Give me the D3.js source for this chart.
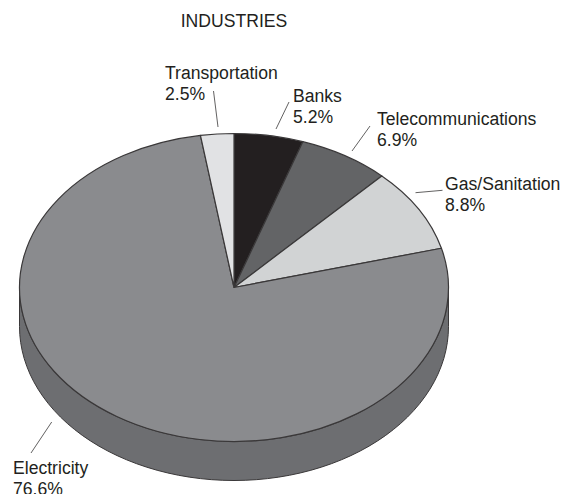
<!DOCTYPE html>
<html>
<head>
<meta charset="utf-8">
<title>Industries</title>
<script src="https://cdn.jsdelivr.net/npm/d3@7"></script>
<style>
  html, body { margin: 0; padding: 0; background: #fff; overflow: hidden; }
  svg { display: block; }
  text { font-family: "Liberation Sans", Arial, sans-serif; font-size: 17.6px; fill: #231f20; }
</style>
</head>
<body>
<svg id="chart" width="561" height="494"></svg>
<script>
// Slices in clockwise order from twelve o'clock
const categories = ["Banks", "Telecommunications", "Gas/Sanitation", "Electricity", "Transportation"];
const shares = [5.2, 6.9, 8.8, 76.6, 2.5];
const sliceColors = ["#231f20", "#636466", "#d1d3d4", "#8a8b8e", "#e1e2e4"];
const chartTitle = "INDUSTRIES";

// Tilted-disc geometry
const cx = 234, cy = 287.5, rx = 214.5, ry = 154, depth = 39;
const outline = "#3a3839";
const wallColor = "#6d6e71";

// Label anchors and leader lines, in category order
const labelSpots = [[293, 102], [377, 125], [445, 190], [13, 474], [165, 79]];
const leaders = [
  [[289, 102], [276, 129]],
  [[370, 126], [352, 151]],
  [[442.5, 190.3], [415.5, 192.7]],
  [[51.7, 422], [31, 453]],
  [[213.5, 91], [218, 127]]
];
const lineGap = 21.2;

const svg = d3.select("#chart");

svg.append("text")
  .attr("x", 234).attr("y", 27)
  .attr("text-anchor", "middle")
  .text(chartTitle);

// Cylinder wall: front half of the rim swept down by the disc depth
const wall = d3.path();
wall.moveTo(cx - rx, cy);
wall.lineTo(cx - rx, cy + depth);
const steps = d3.range(0, 181, 3).map(d => d * Math.PI / 180);
steps.forEach(t => wall.lineTo(cx - rx * Math.cos(t), cy + depth + ry * Math.sin(t)));
wall.lineTo(cx + rx, cy);
steps.slice().reverse().forEach(t => wall.lineTo(cx - rx * Math.cos(t), cy + ry * Math.sin(t)));
wall.closePath();

svg.append("path")
  .attr("d", wall.toString())
  .attr("fill", wallColor)
  .attr("stroke", outline)
  .attr("stroke-width", 1)
  .attr("stroke-linejoin", "round");

// Top face: a circular pie squashed vertically
const pie = d3.pie().sort(null).value(d => d);
const arc = d3.arc().innerRadius(0).outerRadius(rx);

svg.append("g")
  .attr("transform", `translate(${cx},${cy}) scale(1,${ry / rx})`)
  .selectAll("path")
  .data(pie(shares))
  .join("path")
  .attr("d", arc)
  .attr("fill", (d, i) => sliceColors[i])
  .attr("stroke", outline)
  .attr("stroke-width", 1.2)
  .attr("stroke-linejoin", "round")
  .attr("vector-effect", "non-scaling-stroke");

// Leader lines
svg.append("g")
  .selectAll("line")
  .data(leaders)
  .join("line")
  .attr("x1", d => d[0][0]).attr("y1", d => d[0][1])
  .attr("x2", d => d[1][0]).attr("y2", d => d[1][1])
  .attr("stroke", "#3a3839")
  .attr("stroke-width", 0.8);

// Two-line labels: name above share
const labels = svg.append("g")
  .selectAll("text")
  .data(categories)
  .join("text")
  .attr("x", (d, i) => labelSpots[i][0])
  .attr("y", (d, i) => labelSpots[i][1]);

labels.append("tspan").text(d => d);
labels.append("tspan")
  .attr("x", (d, i) => labelSpots[i][0])
  .attr("dy", lineGap)
  .text((d, i) => d3.format(".1f")(shares[i]) + "%");
</script>
</body>
</html>
